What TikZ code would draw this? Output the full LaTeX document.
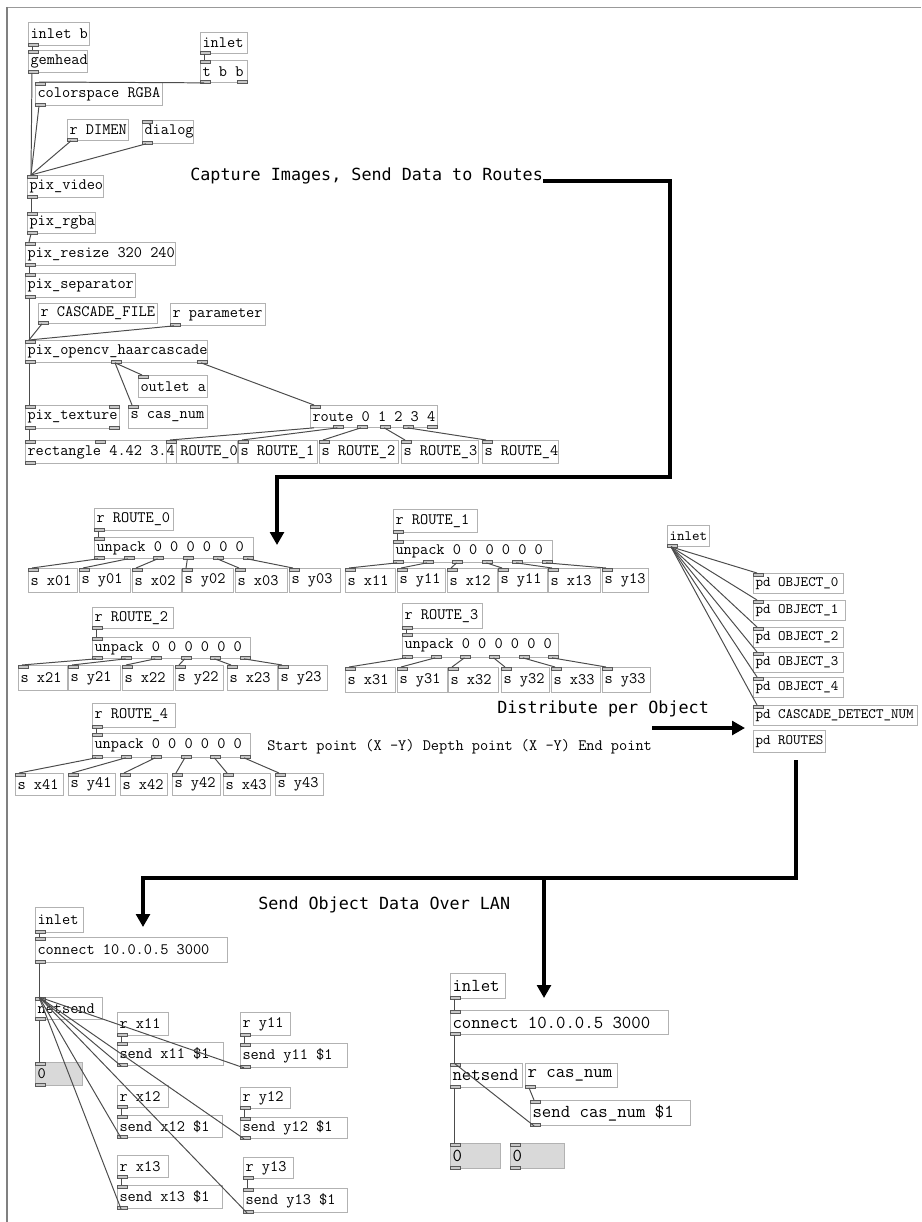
\documentclass[tikz,border=0pt]{standalone}
\usepackage{fontspec}
\newfontfamily\headfamily{DejaVu Sans Mono}
\usetikzlibrary{
	arrows.meta,
	calc
}
\usepackage{xcolor}
\definecolor{boxline}{gray}{0.70}
\definecolor{portline}{gray}{0.35}
\definecolor{portfill}{gray}{0.78}
\definecolor{wirecol}{gray}{0.30}
\definecolor{numfill}{gray}{0.85}
\newcommand{\pdfont}{\ttfamily\fontsize{11.3}{13}\selectfont}
\newcommand{\pdsmall}{\ttfamily\fontsize{10.2}{12}\selectfont}
\newcommand{\pdlarge}{\ttfamily\fontsize{13}{15}\selectfont}
\tikzset{
	obj/.style 2 args={/utils/exec={\pgfmathsetlengthmacro\objw{#1*0.025cm-3pt}},
		execute at begin node={\hbox to \objw\bgroup},
		execute at end node={\hss\egroup},
		draw=boxline, line width=0.6pt, anchor=north west,
		inner xsep=1.5pt, inner ysep=0pt, minimum height=#2*0.025cm, font=\pdfont},
	port/.style={draw=portline, fill=portfill, line width=0.4pt},
	wire/.style={draw=wirecol, line width=0.7pt},
	flow/.style={line width=2.2pt, -{Triangle[width=0.34cm,length=0.32cm]}},
	head/.style={font=\headfamily\fontsize{11.9}{14}\selectfont, inner sep=0pt, anchor=base west}
}

\begin{document}
\begin{tikzpicture}[x=0.025cm,y=-0.025cm]
	\useasboundingbox (0,0) rectangle (921,1222);
	\draw[gray!80, line width=0.6pt] (7,7) -- (921,7);
	\draw[gray, line width=1.5pt] (7,7) -- (7,1222);
	
	% capture chain
	\node[obj={61}{23}] (inletb) at (28,22) {inlet b};
	\node[obj={59}{22}] (gemhead) at (28,50) {gemhead};
	\node[obj={47}{21}] (inlettop) at (200,32) {inlet};
	\node[obj={47}{22}] (tbb) at (200,60) {t b b};
	\node[obj={127}{23}] (colorsp) at (35,82) {colorspace RGBA};
	\node[obj={61}{21}] (rdimen) at (67,119) {r DIMEN};
	\node[obj={51}{23}] (dialog) at (142,120) {dialog};
	\node[obj={76}{22}] (pixvideo) at (27,175) {pix\_video};
	\node[obj={68}{21}] (pixrgba) at (27,212) {pix\_rgba};
	\node[obj={150}{23}] (pixresize) at (25,242) {pix\_resize 320 240};
	\node[obj={110}{24}] (pixsep) at (25,273) {pix\_separator};
	\node[obj={119}{20}] (rcascfile) at (38,303) {r CASCADE\_FILE};
	\node[obj={95}{22}] (rparam) at (170,303) {r parameter};
	\node[obj={182}{22}] (haar) at (25,340) {pix\_opencv\_haarcascade};
	\node[obj={69}{22}] (outleta) at (138,375) {outlet a};
	\node[obj={94}{23}] (pixtex) at (25,405) {pix\_texture};
	\node[obj={79}{23}] (scasnum) at (128,405) {s cas\_num};
	\node[obj={127}{22}] (route) at (310,405) {route 0 1 2 3 4};
	\node[obj={151}{23}] (rect) at (25,440) {rectangle 4.42 3.4};
	\node[obj={71}{23}] (sroute0) at (166,440) {\hspace*{8.5pt}ROUTE\_0};
	\node[obj={79}{23}] (sroute1) at (238,440) {s ROUTE\_1};
	\node[obj={79}{23}] (sroute2) at (319,440) {s ROUTE\_2};
	\node[obj={77}{23}] (sroute3) at (401,440) {s ROUTE\_3};
	\node[obj={76}{23}] (sroute4) at (482,440) {s ROUTE\_4};
	
	\foreach \n in {gemhead,tbb,colorsp,dialog,pixvideo,pixrgba,pixresize,pixsep,haar,outleta,pixtex,scasnum,route,rect,sroute0,sroute1,sroute2,sroute3,sroute4}
		\draw[port] (\n.north west) rectangle ++(10,3);
	\foreach \n in {inletb,gemhead,inlettop,tbb,colorsp,rdimen,dialog,pixvideo,pixrgba,pixresize,pixsep,rcascfile,rparam,haar,pixtex,rect}
		\draw[port] (\n.south west) rectangle ++(10,-3);
	\draw[port] ($(tbb.south west)+(37,0)$) rectangle ++(10,-3);
	\draw[port] ($(haar.south west)+(86,0)$) rectangle ++(10,-3);
	\draw[port] ($(haar.south west)+(172,0)$) rectangle ++(10,-3);
	\draw[port] ($(pixtex.north west)+(84,0)$) rectangle ++(10,3);
	\draw[port] ($(pixtex.south west)+(84,0)$) rectangle ++(10,-3);
	\draw[port] ($(rect.north west)+(70.5,0)$) rectangle ++(10,3);
	\draw[port] ($(rect.north west)+(141,0)$) rectangle ++(10,3);
	\foreach \i in {1,...,5}
		\draw[port] ($(route.south west)+(\i*23.4,0)$) rectangle ++(10,-3);
	
	\foreach \a/\b in {inletb/gemhead,inlettop/tbb,tbb/colorsp,gemhead/pixvideo,colorsp/pixvideo,rdimen/pixvideo,dialog/pixvideo,pixvideo/pixrgba,pixrgba/pixresize,pixresize/pixsep,pixsep/haar,rcascfile/haar,rparam/haar,haar/pixtex,pixtex/rect}
		\draw[wire] ($(\a.south west)+(4,0)$) -- ($(\b.north west)+(4,0)$);
	\draw[wire] ($(haar.south west)+(90,0)$) -- ($(outleta.north west)+(4,0)$);
	\draw[wire] ($(haar.south west)+(90,0)$) -- ($(scasnum.north west)+(4,0)$);
	\draw[wire] ($(haar.south west)+(176,0)$) -- ($(route.north west)+(4,0)$);
	\foreach \i in {0,...,4}
		\draw[wire] ($(route.south west)+(\i*23.4+4,0)$) -- ($(sroute\i.north west)+(4,0)$);
	
	\node[head] (capt) at (190,180) {Capture Images, Send Data to Routes};
	\coordinate (captcorner) at (670,477);
	\coordinate (capttip) at (277,545);
	\draw[flow] ($(capt.base east)+(0,1)$) -| (captcorner) -| (capttip);
	
	% ROUTE_0
	\node[obj={79}{22}] (rr0) at (94,508) {r ROUTE\_0};
	\node[obj={159}{21}] (up0) at (94,537) {unpack 0 0 0 0 0 0};
	\foreach \lab/\x/\w [count=\i from 0] in {x01/28/49,y01/79/51,x02/132/49,y02/182/51,x03/235/52,y03/289/51}{
		\node[obj={\w}{24}] (s0\i) at (\x,568) {s \lab};
		\draw[port] (s0\i.north west) rectangle ++(10,3);
		\draw[port] ($(up0.south west)+(\i*29.8,0)$) rectangle ++(10,-3);
		\draw[wire] ($(up0.south west)+(\i*29.8+4,0)$) -- ($(s0\i.north west)+(4,0)$);
	}
	
	% ROUTE_1
	\node[obj={84}{23}] (rr1) at (393,509) {r ROUTE\_1};
	\node[obj={159}{22}] (up1) at (393,540) {unpack 0 0 0 0 0 0};
	\foreach \lab/\x/\w [count=\i from 0] in {x11/345/50,y11/397/48,x12/447/50,y11/498/49,x13/548/52,y13/602/46}{
		\node[obj={\w}{24}] (s1\i) at (\x,568) {s \lab};
		\draw[port] (s1\i.north west) rectangle ++(10,3);
		\draw[port] ($(up1.south west)+(\i*29.8,0)$) rectangle ++(10,-3);
		\draw[wire] ($(up1.south west)+(\i*29.8+4,0)$) -- ($(s1\i.north west)+(4,0)$);
	}
	
	% ROUTE_2
	\node[obj={81}{21}] (rr2) at (92,607) {r ROUTE\_2};
	\node[obj={158}{21}] (up2) at (92,637) {unpack 0 0 0 0 0 0};
	\foreach \lab/\x/\w [count=\i from 0] in {x21/18/49,y21/68/52,x22/122/51,y22/175/48,x23/227/50,y23/278/49}{
		\node[obj={\w}{25}] (s2\i) at (\x,665) {s \lab};
		\draw[port] (s2\i.north west) rectangle ++(10,3);
		\draw[port] ($(up2.south west)+(\i*29.6,0)$) rectangle ++(10,-3);
		\draw[wire] ($(up2.south west)+(\i*29.6+4,0)$) -- ($(s2\i.north west)+(4,0)$);
	}
	
	% ROUTE_3
	\node[obj={80}{25}] (rr3) at (402,603) {r ROUTE\_3};
	\node[obj={156}{24}] (up3) at (402,633) {unpack 0 0 0 0 0 0};
	\foreach \lab/\x/\w [count=\i from 0] in {x31/345/50,y31/397/50,x32/448/50,y32/501/48,x33/551/49,y33/602/48}{
		\node[obj={\w}{25}] (s3\i) at (\x,667) {s \lab};
		\draw[port] (s3\i.north west) rectangle ++(10,3);
		\draw[port] ($(up3.south west)+(\i*29.2,0)$) rectangle ++(10,-3);
		\draw[wire] ($(up3.south west)+(\i*29.2+4,0)$) -- ($(s3\i.north west)+(4,0)$);
	}
	
	% ROUTE_4
	\node[obj={83}{24}] (rr4) at (92,703) {r ROUTE\_4};
	\node[obj={158}{24}] (up4) at (92,733) {unpack 0 0 0 0 0 0};
	\foreach \lab/\x/\w [count=\i from 0] in {x41/15/48,y41/68/47,x42/120/47,y42/172/48,x43/223/47,y43/275/48}{
		\node[obj={\w}{22}] (s4\i) at (\x,773) {s \lab};
		\draw[port] (s4\i.north west) rectangle ++(10,3);
		\draw[port] ($(up4.south west)+(\i*29.6,0)$) rectangle ++(10,-3);
		\draw[wire] ($(up4.south west)+(\i*29.6+4,0)$) -- ($(s4\i.north west)+(4,0)$);
	}
	
	\foreach \k in {0,...,4}{
		\draw[port] (rr\k.south west) rectangle ++(10,-3);
		\draw[port] (up\k.north west) rectangle ++(10,3);
		\draw[wire] ($(rr\k.south west)+(4,0)$) -- ($(up\k.north west)+(4,0)$);
	}
	
	\node[anchor=base west, inner sep=0pt, font=\pdfont] (legend) at (267,750)
	{Start point (X -Y) Depth point (X -Y) End point};
	
	% objects
	\node[obj={42}{21}, font=\pdsmall] (inletobj) at (667,525) {inlet};
	\node[obj={90}{20}, font=\pdsmall] (pdobj0) at (753,573) {pd OBJECT\_0};
	\node[obj={92}{20}, font=\pdsmall] (pdobj1) at (753,600) {pd OBJECT\_1};
	\node[obj={90}{20}, font=\pdsmall] (pdobj2) at (753,627) {pd OBJECT\_2};
	\node[obj={90}{20}, font=\pdsmall] (pdobj3) at (753,652) {pd OBJECT\_3};
	\node[obj={90}{20}, font=\pdsmall] (pdobj4) at (753,677) {pd OBJECT\_4};
	\node[obj={164}{20}, font=\pdsmall] (pdcasc) at (753,705) {pd CASCADE\_DETECT\_NUM};
	\node[obj={72}{22}, font=\pdsmall] (pdroutes) at (753,730) {pd ROUTES};
	\draw[port] (inletobj.south west) rectangle ++(10,-3);
	\foreach \n in {pdobj0,pdobj1,pdobj2,pdobj3,pdobj4,pdcasc}{
		\draw[port] (\n.north west) rectangle ++(10,3);
		\draw[wire] ($(inletobj.south west)+(4,0)$) -- ($(\n.north west)+(4,0)$);
	}
	
	\node[head] (dist) at (497,713) {Distribute per Object};
	\coordinate (distfrom) at (652,728);
	\coordinate (distto) at (745,728);
	\draw[flow] (distfrom) -- (distto);
	
	\coordinate (routesdrop) at (796,760);
	\coordinate (lanbend) at (143,878);
	\coordinate (lantipl) at (143,927);
	\coordinate (lanfork) at (544,878);
	\coordinate (lantipr) at (544,998);
	\draw[flow] (routesdrop) |- (lanbend) -- (lantipl);
	\draw[flow] (lanfork) -- (lantipr);
	\node[head] (lan) at (258,909) {Send Object Data Over LAN};
	
	% netsend, left
	\node[obj={48}{25}] (inletl) at (35,907) {inlet};
	\node[obj={192}{25}] (connl) at (35,937) {connect 10.0.0.5 3000};
	\node[obj={67}{22}] (netl) at (35,997) {netsend};
	\node[obj={47}{23}, fill=numfill] (numl) at (35,1062) {0};
	\node[obj={51}{23}] (rx11) at (117,1012) {r x11};
	\node[obj={106}{23}] (sendx11) at (117,1042) {send x11 \$1};
	\node[obj={50}{23}] (ry11) at (240,1012) {r y11};
	\node[obj={107}{24}] (sendy11) at (240,1043) {send y11 \$1};
	\node[obj={51}{22}] (rx12) at (117,1085) {r x12};
	\node[obj={105}{22}] (sendx12) at (117,1115) {send x12 \$1};
	\node[obj={50}{21}] (ry12) at (240,1087) {r y12};
	\node[obj={107}{21}] (sendy12) at (240,1117) {send y12 \$1};
	\node[obj={51}{22}] (rx13) at (117,1155) {r x13};
	\node[obj={105}{23}] (sendx13) at (117,1185) {send x13 \$1};
	\node[obj={50}{21}] (ry13) at (243,1157) {r y13};
	\node[obj={104}{24}] (sendy13) at (243,1188) {send y13 \$1};
	
	\foreach \n in {connl,netl,numl,sendx11,sendy11,sendx12,sendy12,sendx13,sendy13}
		\draw[port] (\n.north west) rectangle ++(10,3);
	\foreach \n in {inletl,connl,netl,numl,rx11,ry11,rx12,ry12,rx13,ry13,sendx11,sendy11,sendx12,sendy12,sendx13,sendy13}
		\draw[port] (\n.south west) rectangle ++(10,-3);
	\foreach \a/\b in {inletl/connl,connl/netl,netl/numl,rx11/sendx11,ry11/sendy11,rx12/sendx12,ry12/sendy12,rx13/sendx13,ry13/sendy13}
		\draw[wire] ($(\a.south west)+(4,0)$) -- ($(\b.north west)+(4,0)$);
	\foreach \n in {sendx11,sendy11,sendx12,sendy12,sendx13,sendy13}
		\draw[wire] ($(\n.south west)+(4,0)$) -- ($(netl.north west)+(4,0)$);
	
	% netsend, right
	\node[obj={55}{25}, font=\pdlarge] (inletr) at (450,973) {inlet};
	\node[obj={218}{24}, font=\pdlarge] (connr) at (450,1010) {connect 10.0.0.5 3000};
	\node[obj={72}{24}, font=\pdlarge] (netr) at (450,1063) {netsend};
	\node[obj={92}{24}, font=\pdlarge] (rcas) at (525,1063) {r cas\_num};
	\node[obj={160}{25}, font=\pdlarge] (sendcas) at (530,1100) {send cas\_num \$1};
	\node[obj={50}{25}, font=\pdlarge, fill=numfill] (numr) at (450,1143) {0};
	\node[obj={54}{25}, font=\pdlarge, fill=numfill] (numcas) at (510,1143) {0};
	
	\foreach \n in {connr,netr,sendcas,numr,numcas}
		\draw[port] (\n.north west) rectangle ++(10,3);
	\foreach \n in {inletr,connr,netr,rcas,sendcas,numr,numcas}
		\draw[port] (\n.south west) rectangle ++(10,-3);
	\foreach \a/\b in {inletr/connr,connr/netr,netr/numr,rcas/sendcas}
		\draw[wire] ($(\a.south west)+(4,0)$) -- ($(\b.north west)+(4,0)$);
	\draw[wire] ($(sendcas.south west)+(4,0)$) -- ($(netr.north west)+(4,0)$);
	
\end{tikzpicture}
\end{document}
